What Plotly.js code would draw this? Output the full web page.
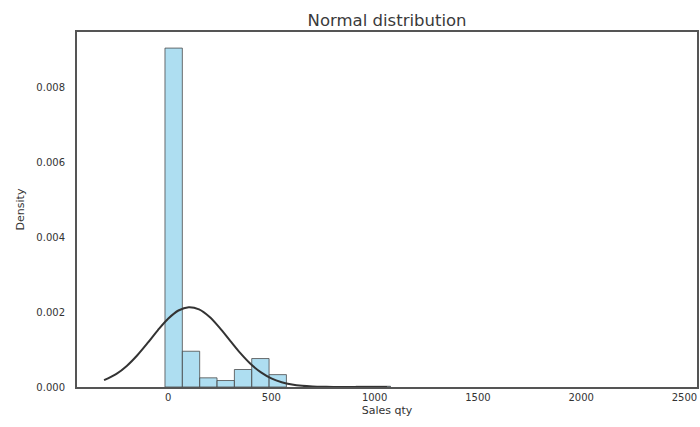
<!DOCTYPE html>
<html>
<head>
<meta charset="utf-8">
<script src="https://cdn.plot.ly/plotly-3.0.1.min.js"></script>
<style>html,body{margin:0;padding:0;background:#fff;}#chart{width:700px;height:427px;}</style>
</head>
<body>
<div id="chart"></div>
<script>
// Histogram bins (left edges) and densities
const binWidth = 84;
const binLeft = [-15, 69, 153, 237, 321, 405, 489, 909, 993];
const density = [0.00905, 0.000955, 0.000245, 0.000173, 0.000467, 0.00076, 0.00033, 0.00002, 0.00002];

// Fitted normal curve
const curveX = [-310, -250, -200, -150, -100, -50, 0, 50, 100, 150, 200, 250, 300, 350, 400, 450, 500, 550, 600, 650, 700, 750, 800, 900, 1000, 1060];
const curveY = [0.000182, 0.000352, 0.000564, 0.000842, 0.001169, 0.001513, 0.001822, 0.002043, 0.002132, 0.002072, 0.001875, 0.001579, 0.001239, 0.000904, 0.000614, 0.000389, 0.000229, 0.000126, 0.0000641, 0.0000305, 0.0000135, 0.0000056, 0.0000021, 0.0000002, 0, 0];

const xTicks = [0, 500, 1000, 1500, 2000, 2500];
const yTicks = [0, 0.002, 0.004, 0.006, 0.008];
const yTickText = ["0.000", "0.002", "0.004", "0.006", "0.008"];

const binCenter = binLeft.map(v => v + binWidth / 2);

const traces = [
  {
    type: 'bar',
    x: binCenter,
    y: density,
    width: binWidth,
    marker: {color: 'rgba(135,206,235,0.68)', line: {color: '#4a4a4a', width: 0.8}},
    hoverinfo: 'x+y'
  },
  {
    type: 'scatter',
    mode: 'lines',
    x: curveX,
    y: curveY,
    line: {color: '#333333', width: 2, shape: 'spline'},
    hoverinfo: 'x+y'
  }
];

const font = {family: 'DejaVu Sans, sans-serif', color: '#333333'};

const layout = {
  width: 700,
  height: 427,
  margin: {l: 77, r: 3, t: 32, b: 40},
  paper_bgcolor: '#ffffff',
  plot_bgcolor: '#ffffff',
  showlegend: false,
  bargap: 0,
  font: font,
  title: {
    text: 'Normal distribution',
    font: {family: 'DejaVu Sans, sans-serif', size: 16.5, color: '#3a3a3a'},
    x: 0.553, xanchor: 'center',
    y: 0.953, yanchor: 'middle'
  },
  xaxis: {
    range: [-441, 2561],
    tickvals: xTicks,
    ticktext: xTicks.map(String),
    showgrid: false,
    zeroline: false,
    showline: true,
    mirror: true,
    linecolor: '#555555',
    linewidth: 2,
    ticks: '',
    tickfont: {family: 'DejaVu Sans, sans-serif', size: 10, color: '#333333'},
    title: {text: 'Sales qty', font: {family: 'DejaVu Sans, sans-serif', size: 11, color: '#333333'}, standoff: 4}
  },
  yaxis: {
    range: [0, 0.00948],
    tickvals: yTicks,
    ticktext: yTickText,
    showgrid: false,
    zeroline: false,
    showline: true,
    mirror: true,
    linecolor: '#555555',
    linewidth: 2,
    ticks: '',
    ticklabelstandoff: 8,
    tickfont: {family: 'DejaVu Sans, sans-serif', size: 10, color: '#333333'},
    title: {text: 'Density', font: {family: 'DejaVu Sans, sans-serif', size: 11, color: '#333333'}, standoff: 10}
  }
};

Plotly.newPlot('chart', traces, layout, {displayModeBar: false, staticPlot: true});
</script>
</body>
</html>
